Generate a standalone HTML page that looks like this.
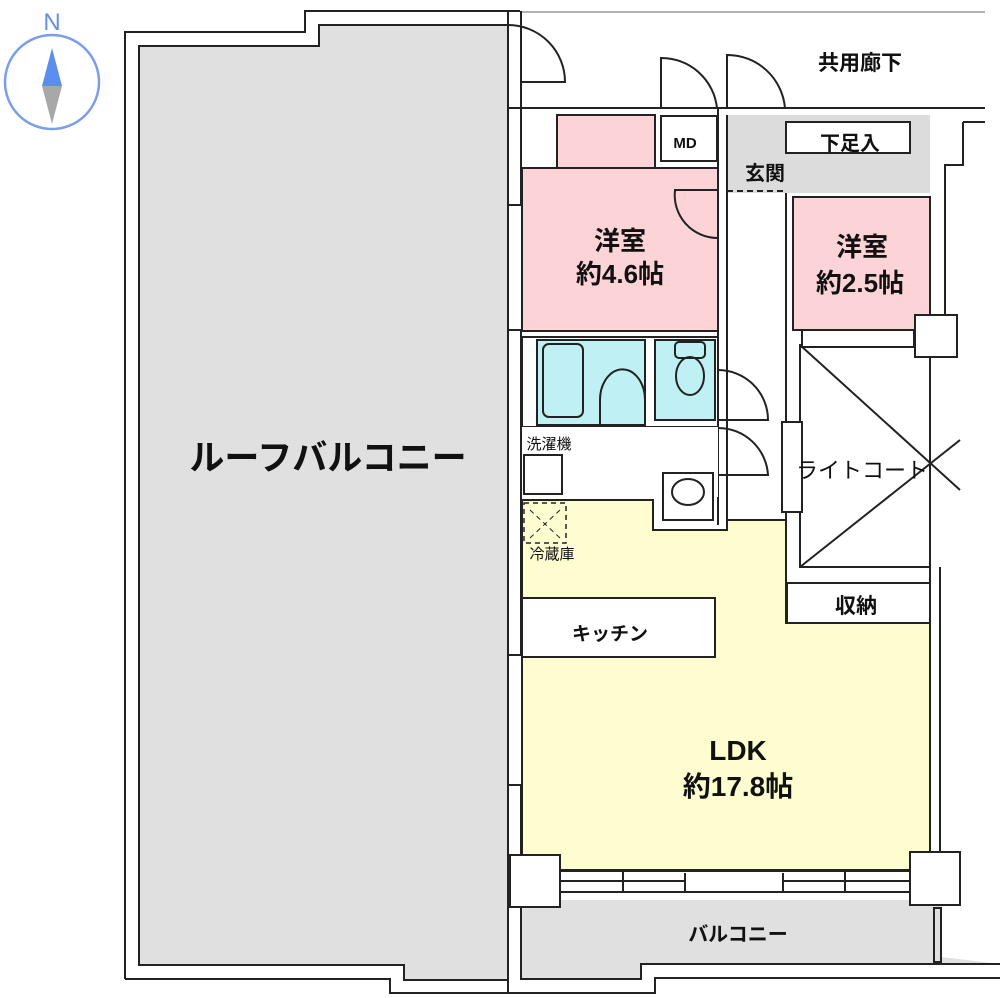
<!DOCTYPE html>
<html><head><meta charset="utf-8"><style>
html,body{margin:0;padding:0;background:#fff;}
svg{display:block;}
text{font-family:"Liberation Sans","Noto Sans CJK JP",sans-serif;fill:#111;}
</style></head><body>
<svg width="1000" height="998" viewBox="0 0 1000 998" xmlns="http://www.w3.org/2000/svg">
<g fill="none" stroke="#222" stroke-width="2">
<!-- roof balcony -->
<path d="M139,965 L139,46 L319,46 L319,25 L508,25 L508,980 L404,980 L404,965 Z" fill="#e0e0e0"/>
<path d="M125,979 L125,32 L305,32 L305,11 L520,11"/>
<path d="M125,979 L390,979 L390,993 L655,993 L655,978 L1000,978"/>
<path d="M508,11 L508,993"/>
<path d="M521,11 L521,980"/>
<!-- balcony -->
<path d="M521,907 L521,979 L641,979 L641,964 L1000,964" fill="#e0e0e0" stroke="none"/>
<rect x="521" y="900" width="420" height="64" fill="#e0e0e0" stroke="none"/>
<path d="M521,907 L521,979 L641,979 L641,964 L1000,964"/>
<rect x="934" y="908" width="7" height="54"/>
<!-- corridor -->
<line x1="508" y1="108" x2="985" y2="108"/>
<line x1="963" y1="122" x2="985" y2="122"/>
<path d="M963,122 L963,165 L945,165 L945,315"/>
<path d="M522,12 L985,12" stroke="#999" stroke-width="1.5"/>
<!-- genkan -->
<rect x="727" y="115" width="203" height="78" fill="#dcdcdc" stroke="none"/>
<rect x="786" y="122" width="124" height="31" fill="#fff"/>
<line x1="727" y1="191" x2="786" y2="191" stroke-dasharray="6,4"/>
<!-- rooms -->
<rect x="557" y="115" width="98" height="53" fill="#fcd3d6"/>
<rect x="661" y="116" width="56" height="45" fill="#fff"/>
<rect x="522" y="168" width="196" height="163" fill="#fcd3d6"/>
<path d="M793,330 L793,197 L930,197 L930,315 L915,315 L915,330 Z" fill="#fcd3d6"/>
<line x1="718" y1="108" x2="718" y2="525"/>
<line x1="727" y1="115" x2="727" y2="525"/>
<line x1="786" y1="193" x2="786" y2="583"/>
<!-- doors -->
<path d="M508,25 A57,57 0 0 1 565,82 L520,82"/>
<path d="M661,108 L661,58 A56,56 0 0 1 717,108"/>
<path d="M727,108 L727,55 A58,58 0 0 1 785,108"/>
<path d="M675,192 L675,190 L718,190 M675,190 A43,43 0 0 0 718,238"/>
<path d="M718,370 A50,50 0 0 1 768,420 L718,420"/>
<path d="M718,428 A50,50 0 0 1 768,475 L718,475"/>
<path d="M727,525 A55,55 0 0 0 785,580"/>
<!-- bath & toilet -->
<rect x="522" y="337" width="196" height="90" fill="#fff"/>
<rect x="537" y="340" width="108" height="85" fill="#bff0f4"/>
<rect x="543" y="344" width="40" height="73" rx="6"/>
<path d="M600,425 L600,400 A22,30 0 0 1 645,400" />
<rect x="655" y="340" width="60" height="80" fill="#bff0f4"/>
<rect x="675" y="342" width="30" height="16" rx="4"/>
<ellipse cx="690" cy="376" rx="14" ry="19"/>
<!-- wash area -->
<rect x="522" y="427" width="196" height="70" fill="#fff" stroke="none"/>
<rect x="524" y="455" width="38" height="39"/>
<rect x="663" y="473" width="50" height="47"/>
<ellipse cx="688" cy="492" rx="16" ry="13"/>
<!-- LDK -->
<path d="M522,500 L653,500 L653,530 L727,530 L727,520 L786,520 L786,623 L930,623 L930,852 L910,852 L910,870 L560,870 L560,855 L522,855 Z" fill="#fdfdd0"/>
<rect x="524" y="503" width="42" height="40" stroke-dasharray="5,4" stroke-width="1.5"/>
<path d="M530,510 L560,538 M560,510 L530,538" stroke-dasharray="5,4" stroke-width="1"/>
<rect x="522" y="598" width="193" height="59" fill="#fff"/>
<rect x="787" y="583" width="143" height="40" fill="#fff"/>
<!-- light court -->
<rect x="800" y="345" width="130" height="222" fill="#fff"/>
<path d="M800,345 L960,490 M800,567 L960,440"/>
<rect x="782" y="422" width="20" height="90" fill="#fff"/>
<rect x="802" y="330" width="112" height="17" fill="#fff"/>
<rect x="915" y="315" width="42" height="42" fill="#fff"/>
<line x1="930" y1="357" x2="930" y2="852"/>
<line x1="940" y1="567" x2="940" y2="852"/>
<!-- left windows -->
<rect x="508" y="205" width="14" height="125" fill="#fff"/>
<rect x="508" y="655" width="14" height="130" fill="#fff"/>
<!-- bottom windows/columns -->
<rect x="510" y="855" width="50" height="52" fill="#fff"/>
<rect x="910" y="852" width="50" height="53" fill="#fff"/>
<rect x="560" y="871" width="350" height="21" fill="#fff"/>
<line x1="560" y1="881" x2="685" y2="881"/><line x1="783" y1="881" x2="910" y2="881"/>
<line x1="623" y1="871" x2="623" y2="892"/><line x1="845" y1="871" x2="845" y2="892"/>
<line x1="685" y1="873" x2="685" y2="892"/><line x1="783" y1="873" x2="783" y2="892"/>
</g>
<!-- compass -->
<circle cx="52" cy="82" r="47" fill="none" stroke="#7a9ee8" stroke-width="2.5"/>
<polygon points="52,48 62,86 42,86" fill="#5b8ef0"/>
<polygon points="42,86 62,86 52,124" fill="#a8a8a8"/>
<text x="52" y="30" font-size="24" text-anchor="middle" style="fill:#6a8ee0">N</text>
<!-- labels -->
<g font-weight="bold" text-anchor="middle">
<text x="328" y="470" font-size="35">ルーフバルコニー</text>
<text x="620" y="250" font-size="26">洋室</text>
<text x="620" y="283" font-size="26">約4.6帖</text>
<text x="862" y="256" font-size="26">洋室</text>
<text x="860" y="292" font-size="26">約2.5帖</text>
<text x="738" y="760" font-size="28">LDK</text>
<text x="738" y="796" font-size="28">約17.8帖</text>
<text x="610" y="640" font-size="19">キッチン</text>
<text x="856" y="613" font-size="21">収納</text>
<text x="860" y="70" font-size="21">共用廊下</text>
<text x="850" y="150" font-size="20">下足入</text>
<text x="765" y="180" font-size="20">玄関</text>
<text x="685" y="148" font-size="15">MD</text>
<text x="738" y="941" font-size="20">バルコニー</text>
</g>
<g text-anchor="middle">
<text x="862" y="478" font-size="22">ライトコート</text>
<text x="549" y="449" font-size="15">洗濯機</text>
<text x="552" y="559" font-size="15">冷蔵庫</text>
</g>
</svg>
</body></html>
